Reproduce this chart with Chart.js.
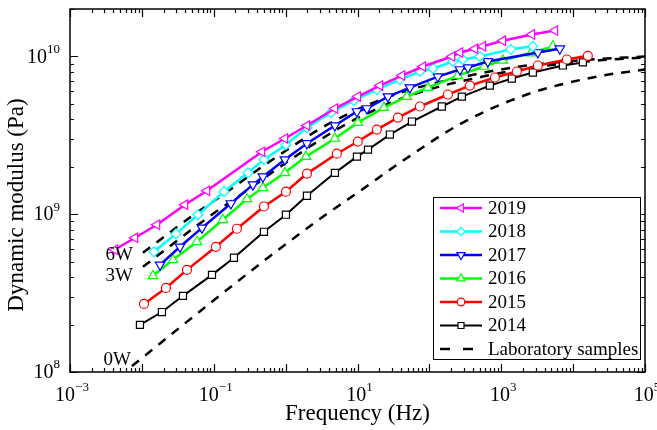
<!DOCTYPE html>
<html>
<head>
<meta charset="utf-8">
<script src="https://cdn.jsdelivr.net/npm/chart.js@4.4.0/dist/chart.umd.min.js"></script>
<style>
html, body { margin: 0; padding: 0; background: #fff; }
#wrap { width: 657px; height: 430px; }
</style>
</head>
<body>
<div id="wrap"><canvas id="chart" width="657" height="430"></canvas></div>
<script>
// Field cores, dynamic modulus master curves (Hz, Pa)
const freq2019 = [0.0042, 0.008, 0.0162, 0.0397, 0.0803, 0.468, 0.977, 1.98, 4.85, 10.1, 20.5, 41.5, 81.3, 206, 266, 430, 555, 1052, 2664, 5565];
const mod2019  = [5.96e8, 7.1e8, 8.58e8, 1.15e9, 1.41e9, 2.49e9, 3.02e9, 3.65e9, 4.68e9, 5.57e9, 6.54e9, 7.57e9, 8.64e9, 1.0e10, 1.06e10, 1.12e10, 1.16e10, 1.26e10, 1.38e10, 1.46e10];

const freq2018 = [0.0147, 0.0298, 0.0603, 0.139, 0.299, 0.499, 1.01, 1.98, 4.26, 8.91, 18.6, 38.9, 73.8, 112, 212, 292, 504, 1358, 2752];
const mod2018  = [5.78e8, 7.51e8, 9.93e8, 1.39e9, 1.83e9, 2.22e9, 2.76e9, 3.54e9, 4.41e9, 5.26e9, 6.17e9, 7.14e9, 8.03e9, 8.39e9, 9.3e9, 9.57e9, 1.0e10, 1.11e10, 1.16e10];

const freq2017 = [0.0179, 0.0339, 0.0686, 0.173, 0.351, 0.483, 0.977, 1.98, 4.85, 9.82, 13.5, 26.5, 53.6, 131, 266, 343, 651, 3228, 6531];
const mod2017  = [4.78e8, 6.22e8, 8.2e8, 1.17e9, 1.54e9, 1.73e9, 2.22e9, 2.81e9, 3.65e9, 4.48e9, 4.68e9, 5.57e9, 6.35e9, 7.46e9, 8.27e9, 8.51e9, 9.3e9, 1.06e10, 1.12e10];

const freq2016 = [0.01426, 0.0271, 0.0584, 0.134, 0.29, 0.483, 0.977, 1.92, 4.85, 10.1, 23.3, 48.6, 95.2, 249, 573, 1052, 2582, 5224];
const mod2016  = [4.07e8, 5.14e8, 6.69e8, 9.22e8, 1.25e9, 1.47e9, 1.83e9, 2.32e9, 3.02e9, 3.81e9, 4.74e9, 5.57e9, 6.35e9, 7.57e9, 8.64e9, 9.45e9, 1.05e10, 1.16e10];

const freq2015 = [0.0107, 0.0216, 0.0424, 0.107, 0.21, 0.499, 1.01, 1.98, 5.16, 10.1, 18.6, 36.5, 73.8, 181, 366, 815, 1648, 3228, 8166, 16000];
const mod2015  = [2.7e8, 3.41e8, 4.44e8, 6.22e8, 8.09e8, 1.12e9, 1.39e9, 1.81e9, 2.42e9, 2.89e9, 3.44e9, 4.1e9, 4.82e9, 5.74e9, 6.54e9, 7.36e9, 8.03e9, 8.77e9, 9.57e9, 1.01e10];

const freq2014 = [0.0094, 0.019, 0.0373, 0.0945, 0.191, 0.499, 1.01, 1.98, 4.85, 9.82, 14.0, 28.2, 57.2, 149, 283, 693, 1403, 2752, 7194, 13650];
const mod2014  = [1.99e8, 2.4e8, 3.04e8, 4.13e8, 5.3e8, 7.74e8, 9.93e8, 1.31e9, 1.83e9, 2.32e9, 2.57e9, 3.2e9, 3.87e9, 4.82e9, 5.57e9, 6.54e9, 7.25e9, 7.91e9, 8.77e9, 9.17e9];

// Laboratory samples (aged 6, 3 and 0 weeks)
const freqLab6W = [0.01035, 0.0482, 0.168, 0.568, 4.27, 33.1, 312, 1815, 12390, 1e5];
const modLab6W  = [5.7e8, 9.64e8, 1.43e9, 2.12e9, 3.81e9, 5.74e9, 7.46e9, 8.64e9, 9.45e9, 1.0e10];

const freqLab3W = [0.01035, 0.0857, 0.299, 1.01, 7.59, 58.9, 555, 3444, 23500, 1e5];
const modLab3W  = [4.64e8, 9.64e8, 1.43e9, 2.12e9, 3.81e9, 5.74e9, 7.46e9, 8.64e9, 9.45e9, 9.86e9];

const freqLab0W = [0.00728, 0.083, 0.568, 3.3, 11.5, 38.9, 292, 2270, 21380, 1e5];
const modLab0W  = [1.09e8, 2.66e8, 5.3e8, 9.64e8, 1.43e9, 2.12e9, 3.81e9, 5.74e9, 7.46e9, 8.27e9];

const xTickExps = [-3, -1, 1, 3, 5];
const yTickExps = [8, 9, 10];
const labNames = ['6W', '3W', '0W'];

const serif = '"Liberation Serif", "Times New Roman", serif';

function pts(fs, es) {
    return fs.map((f, i) => ({ x: f, y: es[i] }));
}

function yearSet(label, fs, es, color, style, rotation, radius, width) {
    return {
        label: label,
        data: pts(fs, es),
        borderColor: color,
        backgroundColor: '#fff',
        borderWidth: width,
        pointStyle: style,
        rotation: rotation,
        pointRadius: radius,
        pointBorderWidth: 1.2,
        pointBackgroundColor: '#fff',
        pointBorderColor: color,
        tension: 0
    };
}

function labSet(label, fs, es) {
    return {
        label: label,
        data: pts(fs, es),
        borderColor: '#000',
        borderWidth: 2.5,
        borderDash: [9, 8],
        pointRadius: 0,
        cubicInterpolationMode: 'monotone',
        isLab: true
    };
}

const datasets = [
    yearSet('2019', freq2019, mod2019, '#ff00ff', 'triangle', 270, 5.5, 2.5),
    yearSet('2018', freq2018, mod2018, '#00ffff', 'rectRot', 0, 5, 2.5),
    yearSet('2017', freq2017, mod2017, '#0000ff', 'triangle', 180, 5.5, 2.5),
    yearSet('2016', freq2016, mod2016, '#00ff00', 'triangle', 0, 5.5, 2.5),
    yearSet('2015', freq2015, mod2015, '#ff0000', 'circle', 0, 4.5, 2.5),
    yearSet('2014', freq2014, mod2014, '#000000', 'rect', 0, 5, 2),
    labSet('6W', freqLab6W, modLab6W),
    labSet('3W', freqLab3W, modLab3W),
    labSet('0W', freqLab0W, modLab0W)
];

// frame, inward ticks, tick labels and axis titles
const axesPlugin = {
    id: 'axesPlugin',
    afterDatasetsDraw(chart) {
        const ctx = chart.ctx;
        const a = chart.chartArea;
        const xs = chart.scales.x;
        const ys = chart.scales.y;
        ctx.save();
        ctx.strokeStyle = '#000';
        ctx.lineWidth = 1.5;
        ctx.strokeRect(a.left, a.top, a.right - a.left, a.bottom - a.top);

        ctx.lineWidth = 1.2;
        ctx.beginPath();
        for (let d = -3; d <= 5; d++) {
            for (let k = 1; k <= 9; k++) {
                const v = k * Math.pow(10, d);
                if (v < xs.min || v > xs.max) continue;
                const p = Math.round(xs.getPixelForValue(v)) + 0.5;
                const len = k === 1 ? 8 : 4;
                ctx.moveTo(p, a.bottom); ctx.lineTo(p, a.bottom - len);
                ctx.moveTo(p, a.top); ctx.lineTo(p, a.top + len);
            }
        }
        for (let d = 8; d <= 10; d++) {
            for (let k = 1; k <= 9; k++) {
                const v = k * Math.pow(10, d);
                if (v < ys.min || v > ys.max) continue;
                const p = Math.round(ys.getPixelForValue(v)) + 0.5;
                const len = k === 1 ? 8 : 4;
                ctx.moveTo(a.left, p); ctx.lineTo(a.left + len, p);
                ctx.moveTo(a.right, p); ctx.lineTo(a.right - len, p);
            }
        }
        ctx.stroke();

        ctx.fillStyle = '#000';
        ctx.textBaseline = 'middle';
        const baseFont = '20px ' + serif;
        const supFont = '13px ' + serif;
        function powLabel(exp, x, y, align) {
            const sup = exp < 0 ? '\u2212' + (-exp) : String(exp);
            ctx.font = baseFont;
            const wb = ctx.measureText('10').width;
            ctx.font = supFont;
            const ws = ctx.measureText(sup).width;
            let x0 = align === 'center' ? x - (wb + ws) / 2 : x - wb - ws;
            ctx.textAlign = 'left';
            ctx.font = baseFont;
            ctx.fillText('10', x0, y);
            ctx.font = supFont;
            ctx.fillText(sup, x0 + wb, y - 8);
        }
        xTickExps.forEach(e => powLabel(e, xs.getPixelForValue(Math.pow(10, e)) + 2, a.bottom + 24, 'center'));
        yTickExps.forEach(e => powLabel(e, a.left - 10, ys.getPixelForValue(Math.pow(10, e)) + 1, 'right'));

        ctx.font = '23px ' + serif;
        ctx.textAlign = 'center';
        ctx.fillText('Frequency (Hz)', (a.left + a.right) / 2, a.bottom + 42);
        ctx.save();
        ctx.translate(17, 205);
        ctx.rotate(-Math.PI / 2);
        ctx.fillText('Dynamic modulus (Pa)', 0, 0);
        ctx.restore();

        // labels at the start of the laboratory curves
        const offs = { '6W': [-10, 2], '3W': [-10, 9], '0W': [-1, -6] };
        ctx.font = '19px ' + serif;
        ctx.textAlign = 'right';
        chart.data.datasets.forEach((ds, i) => {
            if (!ds.isLab) return;
            const first = chart.getDatasetMeta(i).data[0];
            const o = offs[ds.label];
            ctx.fillText(ds.label, first.x + o[0], first.y + o[1]);
        });
        ctx.restore();
    }
};

// legend box drawn inside the plot
const legendPlugin = {
    id: 'legendPlugin',
    afterDraw(chart) {
        const ctx = chart.ctx;
        const box = { x: 433, y: 197, w: 207, h: 162 };
        ctx.save();
        ctx.fillStyle = '#fff';
        ctx.fillRect(box.x, box.y, box.w, box.h);
        ctx.strokeStyle = '#000';
        ctx.lineWidth = 1;
        ctx.strokeRect(box.x + 0.5, box.y + 0.5, box.w, box.h);
        const rows = chart.data.datasets.filter(ds => !ds.isLab);
        const step = 23.5;
        ctx.font = '19px ' + serif;
        ctx.textBaseline = 'middle';
        ctx.textAlign = 'left';
        rows.forEach((ds, i) => {
            const y = box.y + 11 + i * step;
            ctx.strokeStyle = ds.borderColor;
            ctx.lineWidth = ds.borderWidth;
            ctx.beginPath();
            ctx.moveTo(440, y); ctx.lineTo(482, y);
            ctx.stroke();
            ctx.fillStyle = '#fff';
            ctx.lineWidth = 1.2;
            Chart.helpers.drawPoint(ctx, {
                pointStyle: ds.pointStyle, rotation: ds.rotation,
                radius: ds.pointRadius * 0.85, borderWidth: 1.2
            }, 461, y);
            ctx.fillStyle = '#000';
            ctx.fillText(ds.label, 488, y + 1);
        });
        const yl = box.y + 11 + rows.length * step;
        ctx.strokeStyle = '#000';
        ctx.lineWidth = 2.5;
        ctx.setLineDash([10, 13]);
        ctx.beginPath();
        ctx.moveTo(440, yl); ctx.lineTo(473, yl);
        ctx.stroke();
        ctx.setLineDash([]);
        ctx.fillStyle = '#000';
        ctx.fillText('Laboratory samples', 488, yl + 1);
        ctx.restore();
    }
};

new Chart(document.getElementById('chart'), {
    type: 'line',
    data: { datasets: datasets },
    options: {
        responsive: false,
        devicePixelRatio: 1,
        animation: false,
        layout: { padding: { left: 70, right: 12, top: 9, bottom: 58 } },
        plugins: { legend: { display: false }, tooltip: { enabled: false } },
        scales: {
            x: { type: 'logarithmic', min: 1e-3, max: 1e5, display: false },
            y: { type: 'logarithmic', min: 1e8, max: 2e10, display: false }
        }
    },
    plugins: [axesPlugin, legendPlugin]
});
</script>
</body>
</html>
